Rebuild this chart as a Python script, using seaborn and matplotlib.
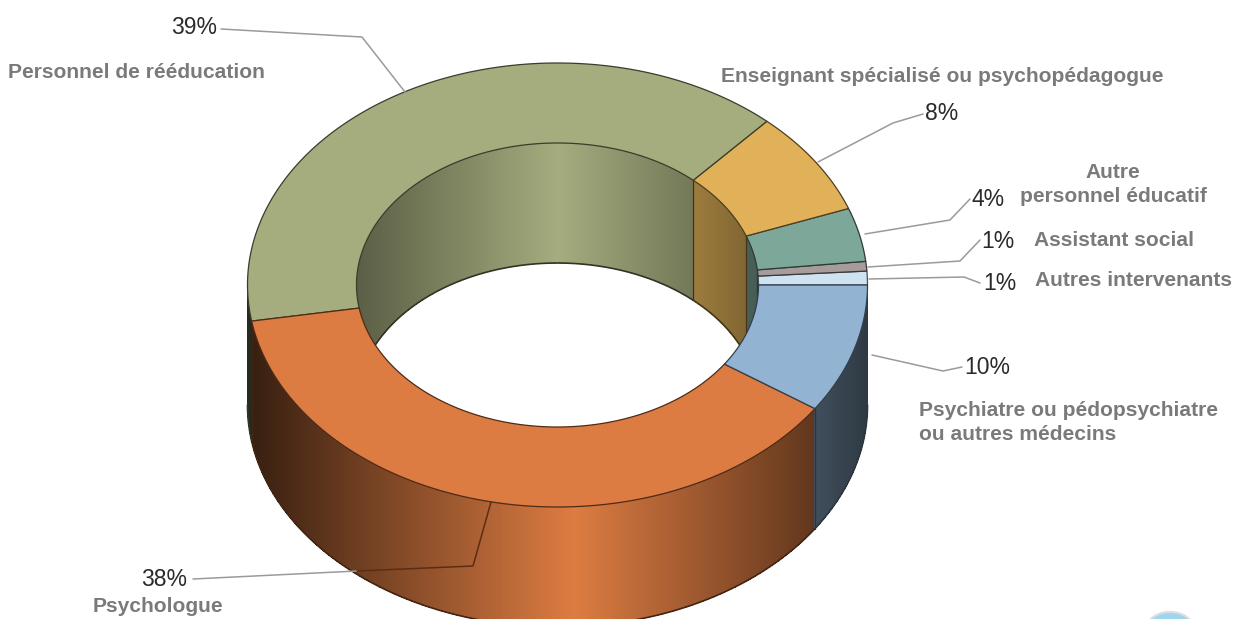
import numpy as np
import matplotlib
matplotlib.use("Agg")
import matplotlib.pyplot as plt
from matplotlib.patches import Polygon, Ellipse
from matplotlib.collections import PolyCollection
from matplotlib.colors import to_rgb
import seaborn as sns

# ---- data (counter-clockwise from the right-hand edge of the ring)
categories = ["Autres intervenants", "Assistant social", "Autre personnel éducatif",
              "Enseignant spécialisé ou psychopédagogue", "Personnel de rééducation",
              "Psychologue", "Psychiatre ou pédopsychiatre ou autres médecins"]
shares = [1.0, 0.7, 3.9, 7.6, 39.4, 38.0, 9.4]     # as measured on the picture
percent_labels = ["1%", "1%", "4%", "8%", "39%", "38%", "10%"]
palette = sns.color_palette(["#CFE2F2", "#A79C9C", "#7DA899", "#E0B158",
                             "#A5AC7E", "#DD7C42", "#92B3D2"])

# ---- layout
W, H = 1235, 619
CX, CY = 557.5, 285.0
RX_OUT, RY_OUT = 310.0, 222.0
RX_IN, RY_IN = 201.0, 142.0
DEPTH = 120.0
LIGHT_OUT_X = 575.0

sns.set_theme(style="white")
plt.rcParams["font.family"] = ["Liberation Sans", "DejaVu Sans"]

fig = plt.figure(figsize=(W / 100, H / 100), dpi=100, facecolor="white")
ax = fig.add_axes([0, 0, 1, 1])
ax.set_xlim(0, W)
ax.set_ylim(H, 0)
ax.set_axis_off()


def ell(angle_deg, rx, ry, dy=0.0):
    t = np.radians(angle_deg)
    return CX + rx * np.cos(t), CY - ry * np.sin(t) + dy


def wall(a0, a1, rx, ry, base, shade, z):
    """Curved wall between two angles, drawn as thin shaded strips."""
    if a1 <= a0:
        return
    angles = np.arange(a0, a1 + 0.2, 0.2)
    angles[-1] = a1
    xs, ys = ell(angles, rx, ry)
    polys, cols = [], []
    base = np.array(to_rgb(base))
    for i in range(len(angles) - 1):
        polys.append([(xs[i], ys[i]), (xs[i + 1], ys[i + 1]),
                      (xs[i + 1], ys[i + 1] + DEPTH), (xs[i], ys[i] + DEPTH)])
        cols.append(base * shade(0.5 * (xs[i] + xs[i + 1])))
    ax.add_collection(PolyCollection(polys, facecolors=cols, edgecolors="none",
                                     antialiaseds=False, zorder=z))
    ex = base * 0.3
    ax.plot(xs, ys + DEPTH, color=ex, lw=1.2, zorder=z + 0.1)
    for a in (a0, a1):
        if 0.5 < (a % 180) < 179.5:
            x, y = ell(a, rx, ry)
            ax.plot([x, x], [y, y + DEPTH], color=ex, lw=0.8, zorder=z + 0.1)


outer_shade = lambda x: 1 - 0.72 * np.abs(x - LIGHT_OUT_X) / RX_OUT
inner_shade = lambda x: 1 - 0.45 * np.abs(x - CX) / RX_IN

edges = 360 * np.cumsum([0] + shares) / sum(shares)

for i, base in enumerate(palette):
    a0, a1 = edges[i], edges[i + 1]
    wall(max(a0, 180), min(a1, 360), RX_OUT, RY_OUT, base, outer_shade, 2)
    wall(max(a0, 0), min(a1, 180), RX_IN, RY_IN, base, inner_shade, 2)

for i, base in enumerate(palette):
    a0, a1 = edges[i], edges[i + 1]
    ang = np.linspace(a0, a1, 200)
    xo, yo = ell(ang, RX_OUT, RY_OUT)
    xi, yi = ell(ang[::-1], RX_IN, RY_IN)
    pts = np.column_stack([np.r_[xo, xi], np.r_[yo, yi]])
    ax.add_patch(Polygon(pts, closed=True, facecolor=base,
                         edgecolor=np.array(to_rgb(base)) * 0.35, lw=0.9, zorder=4))

# ---- leader lines
leaders = [
    ([221, 362, 405], [29, 37, 92], "#9a9a9a"),
    ([923, 893, 818], [114, 123, 162], "#9a9a9a"),
    ([970, 950, 865], [199, 220, 234], "#9a9a9a"),
    ([980, 960, 868], [240, 261, 267], "#9a9a9a"),
    ([980, 964, 869], [283, 277, 279], "#9a9a9a"),
    ([962, 943, 872], [367, 371, 355], "#9a9a9a"),
    ([193, 357], [579, 571], "#9a9a9a"),
    ([357, 473, 491], [571, 566, 502], "#5a2e14"),
]
for xs, ys, c in leaders:
    ax.plot(xs, ys, color=c, lw=1.1, zorder=5, solid_joinstyle="round")

# ---- percentages
pct_pos = [(983, 283), (981, 242), (971, 199), (925, 114), (171, 28), (141, 580), (964, 367)]
for s, (x, y) in zip(percent_labels, pct_pos):
    ax.text(x, y, s, fontsize=16.5, color="#2a2a2a", ha="left", va="center", zorder=6)

# ---- names
GREY = "#7a7a7a"
name_pos = [
    ("Personnel de rééducation", 8, 73, "left"),
    ("Enseignant spécialisé ou psychopédagogue", 721, 77, "left"),
    ("Autre", 1113, 173, "center"),
    ("personnel éducatif", 1113, 197, "center"),
    ("Assistant social", 1034, 240, "left"),
    ("Autres intervenants", 1035, 280, "left"),
    ("Psychiatre ou pédopsychiatre", 919, 411, "left"),
    ("ou autres médecins", 919, 435, "left"),
    ("Psychologue", 93, 607, "left"),
]
for s, x, y, ha in name_pos:
    ax.text(x, y, s, fontsize=15.1, fontweight="bold", color=GREY, ha=ha, va="center", zorder=6)

# ---- stray mark in the bottom-right corner
ax.add_patch(Ellipse((1170, 628), 46, 32, facecolor="#9ed6f0", edgecolor="#dddddd", lw=1.5, zorder=1))

fig.savefig("out.png", dpi=100, facecolor="white")
